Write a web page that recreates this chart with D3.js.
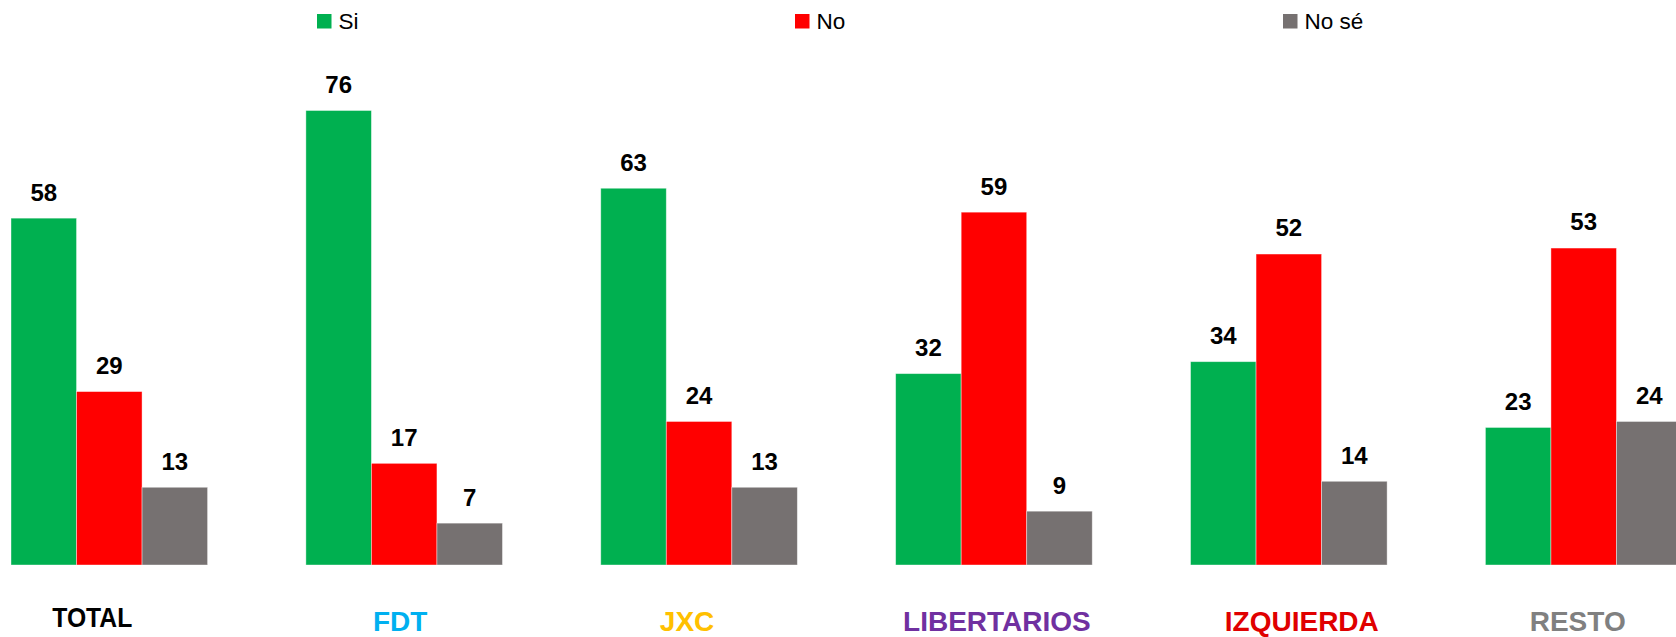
<!DOCTYPE html>
<html>
<head>
<meta charset="utf-8">
<script src="https://cdn.jsdelivr.net/npm/d3@7"></script>
<style>
    html, body { margin: 0; padding: 0; background: #fff; }
    svg { display: block; font-family: Arial, "Liberation Sans", sans-serif; }
</style>
</head>
<body>
<div id="chart"></div>
<script>
// Dados
var categories = ["TOTAL", "FDT", "JXC", "LIBERTARIOS", "IZQUIERDA", "RESTO"];
var seriesNames = ["Si", "No", "No sé"];
var siValues = [58, 76, 63, 32, 34, 23];
var noValues = [29, 17, 24, 59, 52, 53];
var nsValues = [13, 7, 13, 9, 14, 24];

// Cores
var seriesColors = ["#00B050", "#FF0000", "#767171"];
var categoryColors = ["#000000", "#00B0F0", "#FFC000", "#7030A0", "#E00000", "#808080"];

var width = 1676, height = 637;
var baseY = 565;

var svg = d3.select("#chart")
    .append("svg")
    .attr("width", width)
    .attr("height", height);

// Escalas
var x0 = d3.scaleBand()
    .domain(categories)
    .range([11, 1682])
    .paddingInner(1 / 3)
    .paddingOuter(0);

var x1 = d3.scaleBand()
    .domain(seriesNames)
    .range([0, x0.bandwidth()])
    .padding(0);

var y = d3.scaleLinear()
    .domain([0, 76])
    .range([baseY, 110.5]);

var color = d3.scaleOrdinal().domain(seriesNames).range(seriesColors);

var rows = categories.map(function (c, i) {
    return { cat: c, values: [siValues[i], noValues[i], nsValues[i]] };
});

// Grupos de barras
var groups = svg.selectAll("g.group")
    .data(rows)
    .join("g")
    .attr("class", "group")
    .attr("transform", d => `translate(${x0(d.cat)},0)`);

var cells = groups.selectAll("g.cell")
    .data(d => d.values.map((v, j) => ({ name: seriesNames[j], value: v })))
    .join("g")
    .attr("class", "cell");

cells.append("rect")
    .attr("x", d => x1(d.name))
    .attr("y", d => y(d.value))
    .attr("width", x1.bandwidth())
    .attr("height", d => baseY - y(d.value))
    .attr("fill", d => color(d.name))
    .attr("stroke", "#ffffff")
    .attr("stroke-opacity", 0.5)
    .attr("stroke-width", 0.8);

cells.append("text")
    .attr("x", d => x1(d.name) + x1.bandwidth() / 2)
    .attr("y", d => y(d.value) - 17.6)
    .attr("text-anchor", "middle")
    .attr("font-size", 24)
    .attr("font-weight", "bold")
    .attr("fill", "#000")
    .text(d => d.value);

// Rótulos das categorias (ajustes finos como no original)
var labelNudge = [-17, -4, -12, 3, 13, -6];
var labelBase = [626.5, 631, 631, 631, 631, 631];

svg.selectAll("text.cat")
    .data(categories)
    .join("text")
    .attr("class", "cat")
    .attr("x", (d, i) => x0(d) + x0.bandwidth() / 2 + labelNudge[i])
    .attr("y", (d, i) => labelBase[i])
    .attr("text-anchor", "middle")
    .attr("font-size", 28)
    .attr("font-weight", "bold")
    .attr("fill", (d, i) => categoryColors[i])
    .each(function (d) {
        if (d === "TOTAL") {
            d3.select(this).attr("textLength", 80).attr("lengthAdjust", "spacingAndGlyphs");
        }
    })
    .text(d => d);

// Legenda
var legendX = [317, 795, 1283];
var legend = svg.selectAll("g.legend")
    .data(seriesNames)
    .join("g")
    .attr("class", "legend")
    .attr("transform", (d, i) => `translate(${legendX[i]},14)`);

legend.append("rect")
    .attr("width", 14.5)
    .attr("height", 14.5)
    .attr("fill", d => color(d));

legend.append("text")
    .attr("x", 21.5)
    .attr("y", 15)
    .attr("font-size", 22.5)
    .attr("fill", "#000")
    .text(d => d);
</script>
</body>
</html>
